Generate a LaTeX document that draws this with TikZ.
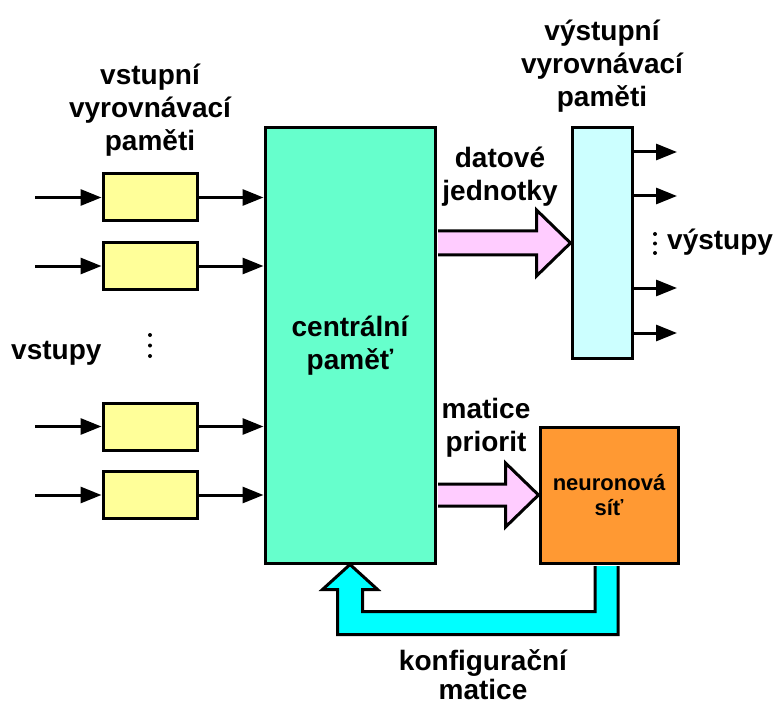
\documentclass[tikz,border=0pt]{standalone}
\usepackage{fontspec}
\setmainfont{Liberation Sans}
\usetikzlibrary{arrows.meta,calc}
\definecolor{cmfill}{HTML}{66FFCC}
\definecolor{bufin}{HTML}{FFFF99}
\definecolor{bufout}{HTML}{CCFFFF}
\definecolor{netfill}{HTML}{FF9933}
\definecolor{datafill}{HTML}{FFCCFF}
\definecolor{cfgfill}{HTML}{00FFFF}
\begin{document}
\begin{tikzpicture}[x=1pt,y=-1pt,
  box/.style={draw=black,line width=3pt,inner sep=0pt},
  lbl/.style={font=\bfseries\fontsize{28}{33}\selectfont,align=center,inner sep=0pt},
  sig/.style={line width=3pt,-{Triangle[length=21pt,width=16pt]}},
  fat/.style={draw=black,line width=3pt,line join=miter},
  dot/.style={fill=black}]
\useasboundingbox (0,0) rectangle (780,706);

% main blocks
\node[box,fill=cmfill,minimum width=170pt,minimum height=435pt,
      font=\bfseries\fontsize{28}{33}\selectfont,align=center] (cm) at (350,345.5) {centrální\\paměť};
\node[box,fill=bufout,minimum width=60pt,minimum height=230pt] (ob) at (602,243) {};
\node[box,fill=netfill,minimum width=138pt,minimum height=136pt,
      font=\bfseries\fontsize{22}{25}\selectfont,align=center] (nn) at (609,495) {neuronová\\síť};

% input buffers
\foreach \i/\y in {1/197.5,2/266,3/426.5,4/495}{
  \node[box,fill=bufin,minimum width=94pt,minimum height=47pt] (b\i) at (150,\y) {};
  \coordinate (in\i) at (35,\y);
  \draw[sig] (in\i) -- (b\i.west);
  \draw[sig] (b\i.east) -- (cm.west |- b\i.east);
}

% outputs
\foreach \i/\y in {1/152,2/196,3/288,4/333}{
  \coordinate (out\i) at (677,\y);
  \draw[sig] (ob.east |- out\i) -- (out\i);
}

% ellipsis dots
\fill[dot] (150,335) circle (2);
\fill[dot] (150,345.5) circle (2);
\fill[dot] (150,356) circle (2);
\fill[dot] (655,234) circle (2);
\fill[dot] (655,243.5) circle (2);
\fill[dot] (655,253) circle (2);

% data units: central memory -> output buffer
\draw[fat,fill=datafill]
  ($(cm.east |- ob.west)+(1.5,-12)$) -- ($(ob.west)+(-34,-12)$) -- ($(ob.west)+(-34,-33)$)
  -- (ob.west) -- ($(ob.west)+(-34,33)$) -- ($(ob.west)+(-34,12)$) -- ($(cm.east |- ob.west)+(1.5,12)$);

% priority matrix: central memory -> neural network
\draw[fat,fill=datafill]
  ($(cm.east |- nn.west)+(1.5,-11)$) -- ($(nn.west)+(-33,-11)$) -- ($(nn.west)+(-33,-32)$)
  -- (nn.west) -- ($(nn.west)+(-33,32)$) -- ($(nn.west)+(-33,11)$) -- ($(cm.east |- nn.west)+(1.5,11)$);

% configuration matrix: neural network -> central memory
\draw[fat,fill=cfgfill]
  ($(nn.south)+(-14,1.5)$) -- ($(nn.south)+(-14,47)$) -- ($(cm.south)+(12.5,47)$)
  -- ($(cm.south)+(12.5,25)$) -- ($(cm.south)+(27.5,25)$) -- (cm.south)
  -- ($(cm.south)+(-27.5,25)$) -- ($(cm.south)+(-12.5,25)$) -- ($(cm.south)+(-12.5,70)$)
  -- ($(nn.south)+(9,70)$) -- ($(nn.south)+(9,1.5)$);

% labels
\node[lbl] (lin) at (150,110) {vstupní\\vyrovnávací\\paměti};
\node[lbl] (lout) at (602,66) {výstupní\\vyrovnávací\\paměti};
\node[lbl] (ldata) at (500,177) {datové\\jednotky};
\node[lbl] (lprio) at (486,428) {matice\\priorit};
\node[lbl,font=\bfseries\fontsize{28}{29}\selectfont] (lcfg) at (483,675) {konfigurační\\matice};
\node[lbl,anchor=base west] (lvst) at (11,359) {vstupy};
\node[lbl,anchor=base west] (lvyst) at (667,250) {výstupy};
\end{tikzpicture}
\end{document}
